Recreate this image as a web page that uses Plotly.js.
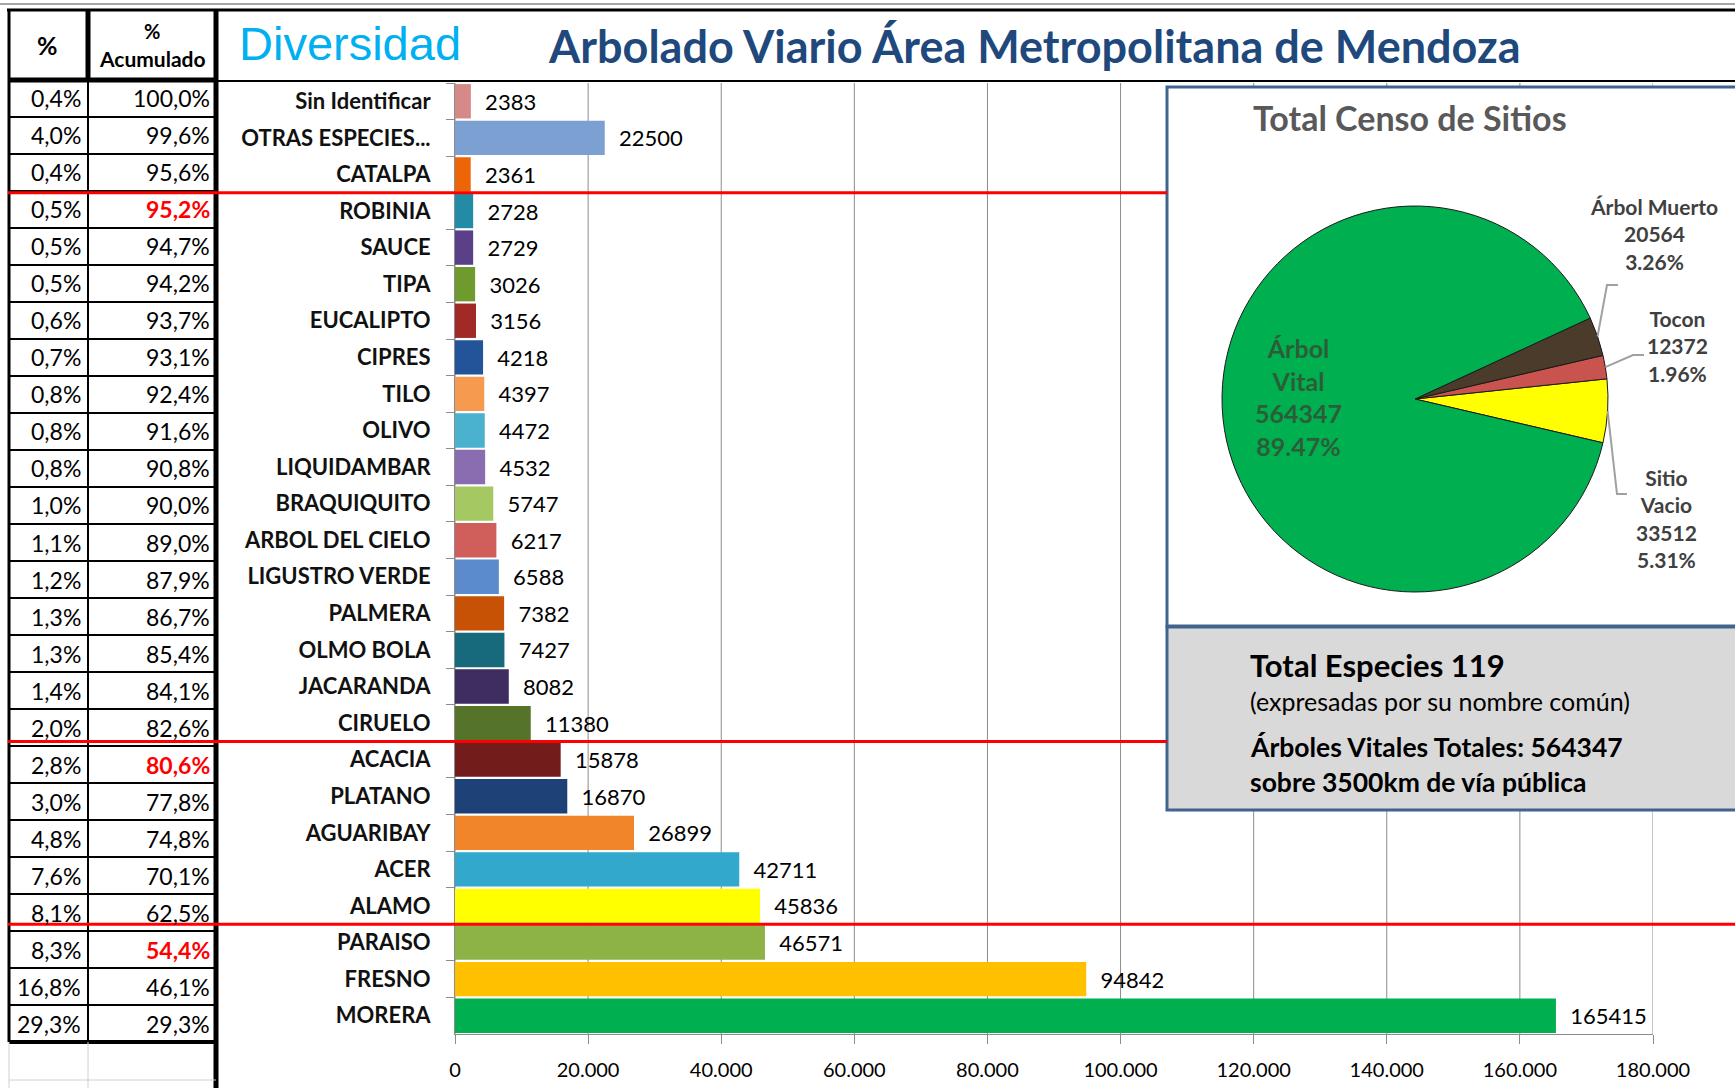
<!DOCTYPE html>
<html>
<head>
<meta charset="utf-8">
<script src="https://cdn.plot.ly/plotly-3.0.1.min.js"></script>
<style>
html,body{margin:0;padding:0;background:#fff;}
#chart{width:1735px;height:1088px;}
</style>
</head>
<body>
<div id="chart"></div>
<script>
// ---------------- DATA ----------------
const species = ['Sin Identificar','OTRAS ESPECIES...','CATALPA','ROBINIA','SAUCE','TIPA','EUCALIPTO','CIPRES','TILO','OLIVO','LIQUIDAMBAR','BRAQUIQUITO','ARBOL DEL CIELO','LIGUSTRO VERDE','PALMERA','OLMO BOLA','JACARANDA','CIRUELO','ACACIA','PLATANO','AGUARIBAY','ACER','ALAMO','PARAISO','FRESNO','MORERA'];
const counts = [2383,22500,2361,2728,2729,3026,3156,4218,4397,4472,4532,5747,6217,6588,7382,7427,8082,11380,15878,16870,26899,42711,45836,46571,94842,165415];
const pctText = ['0,4%','4,0%','0,4%','0,5%','0,5%','0,5%','0,6%','0,7%','0,8%','0,8%','0,8%','1,0%','1,1%','1,2%','1,3%','1,3%','1,4%','2,0%','2,8%','3,0%','4,8%','7,6%','8,1%','8,3%','16,8%','29,3%'];
const cumText = ['100,0%','99,6%','95,6%','95,2%','94,7%','94,2%','93,7%','93,1%','92,4%','91,6%','90,8%','90,0%','89,0%','87,9%','86,7%','85,4%','84,1%','82,6%','80,6%','77,8%','74,8%','70,1%','62,5%','54,4%','46,1%','29,3%'];
const cutRows = ['ROBINIA','ACACIA','PARAISO'];
const barColors = ['#D58A88','#7DA0D2','#EE6508','#228BA6','#5A4088','#6F9A2E','#A12A27','#23549A','#F59A4F','#4AB2CF','#8A6CB0','#A5C862','#D05E5A','#5B8BCB','#C75206','#176A7C','#3E2D60','#56732A','#721C1C','#1E4278','#F0852A','#31A8CC','#FFFF00','#8DB246','#FFC000','#00B050'];
const xTickVals = [0,20000,40000,60000,80000,100000,120000,140000,160000,180000];

const pieLabels = ['Sitio Vacio','Tocon','Árbol Muerto','Árbol Vital'];
const pieValues = [33512,12372,20564,564347];
const pieColors = ['#FFFF00','#C9534F','#4A3B2A','#00B050'];

const titleLeft = 'Diversidad';
const titleMain = 'Arbolado Viario Área Metropolitana de Mendoza';
const pieTitle = 'Total Censo de Sitios';
const headPct = '%';
const headCum = ['%','Acumulado'];
const infoLines = ['Total Especies 119','(expresadas por su nombre común)','Árboles Vitales Totales: 564347','sobre 3500km de vía pública'];

// ---------------- GEOMETRY ----------------
const W = 1735, H = 1088;
const px = x => x / W;
const py = y => 1 - y / H;
const PLOT_L = 455, PLOT_R = 1653, PLOT_T = 83, PLOT_B = 1034;
const T_L = 9, T_MID = 88, T_R = 216, T_TOP = 10, T_HEAD = 80, T_BOT = 1042;
const PIE_CX = 1415, PIE_CY = 399, PIE_R = 193;
const PIE_ROT = 84;
const FONT = 'Lato, sans-serif';

const n = species.length;

const shapes = [];
const annotations = [];

// vertical gridlines (drawn as lower shapes so the white box can hide them)
xTickVals.forEach(v => shapes.push({type:'line', xref:'x', yref:'paper', x0:v, x1:v, y0:py(PLOT_B), y1:py(PLOT_T), line:{color:'#8C8C8C', width:1}, layer:'below'}));

// pie box + info box
shapes.push({type:'rect', xref:'paper', yref:'paper', x0:px(1167), x1:px(1750), y0:py(626), y1:py(87), fillcolor:'#FFFFFF', line:{color:'#41648F', width:3}, layer:'below'});
shapes.push({type:'rect', xref:'paper', yref:'paper', x0:px(1167), x1:px(1750), y0:py(810), y1:py(627), fillcolor:'#D9D9D9', line:{color:'#41648F', width:3}, layer:'below'});

function hline(y, x0, x1, color, width, layer){ shapes.push({type:'line', xref:'paper', yref:'paper', x0:px(x0), x1:px(x1), y0:py(y), y1:py(y), line:{color, width}, layer: layer || 'above'}); }
function vline(x, y0, y1, color, width, layer){ shapes.push({type:'line', xref:'paper', yref:'paper', x0:px(x), x1:px(x), y0:py(y0), y1:py(y1), line:{color, width}, layer: layer || 'above'}); }

// sheet frame lines
hline(4, 0, W, '#A6A6A6', 2);
hline(T_TOP, 7, W, '#000', 3);
hline(81, T_R, W, '#000', 2);
// table frame
vline(T_L, T_TOP, T_BOT, '#000', 3);
vline(T_MID, T_TOP, T_HEAD, '#000', 5);
vline(T_MID, T_HEAD, T_BOT, '#000', 2);
vline(T_R, T_TOP, H, '#000', 5);
hline(T_HEAD, T_L, T_R, '#000', 5);
hline(T_BOT, T_L, T_R, '#000', 4);
vline(T_MID, T_BOT, H, '#D0D0D0', 1);
vline(T_L, T_BOT, H, '#D0D0D0', 1);
hline(1080, T_L, T_R, '#D0D0D0', 1);

// red cut lines
const redEnds = [1167, 1167, W];
cutRows.forEach((name, k) => {
  const idx = species.indexOf(name);
  shapes.push({type:'line', xref:'paper', yref:'y', x0:px(8), x1:px(redEnds[k]), y0:idx-0.5, y1:idx-0.5, line:{color:'#FF0000', width:3}, layer:'above'});
});

// table text
species.forEach((name, i) => {
  const isCut = cutRows.includes(name);
  annotations.push({xref:'paper', yref:'y2', x:px(83), y:name, xanchor:'right', yanchor:'middle', text:pctText[i], showarrow:false, font:{family:FONT, size:23, color:'#000'}});
  annotations.push({xref:'paper', yref:'y2', x:px(212), y:name, xanchor:'right', yanchor:'middle', text:cumText[i], showarrow:false, font:{family:FONT, size:23, color:isCut ? '#FF0000' : '#000', weight: isCut ? 700 : 400}});
});

// table header
annotations.push({xref:'paper', yref:'paper', x:px(47), y:py(45), xanchor:'center', yanchor:'middle', text:headPct, showarrow:false, font:{family:FONT, size:25, color:'#000', weight:700}});
annotations.push({xref:'paper', yref:'paper', x:px(152), y:py(31), xanchor:'center', yanchor:'middle', text:headCum[0], showarrow:false, font:{family:FONT, size:20, color:'#000', weight:700}});
annotations.push({xref:'paper', yref:'paper', x:px(152), y:py(59), xanchor:'center', yanchor:'middle', text:headCum[1], showarrow:false, font:{family:FONT, size:21, color:'#000', weight:700}});

// titles
annotations.push({xref:'paper', yref:'paper', x:px(237), y:py(43), xanchor:'left', yanchor:'middle', text:titleLeft, showarrow:false, font:{family:'Liberation Sans, Arial, sans-serif', size:47, color:'#00B0F0'}});
annotations.push({xref:'paper', yref:'paper', x:px(546), y:py(46), xanchor:'left', yanchor:'middle', text:titleMain, showarrow:false, font:{family:FONT, size:45, color:'#1F497D', weight:700}});
annotations.push({xref:'paper', yref:'paper', x:px(1410), y:py(118), xanchor:'center', yanchor:'middle', text:pieTitle, showarrow:false, font:{family:FONT, size:34, color:'#595959', weight:700}});

// info box
const infoStyle = [
  {y:665, size:31, weight:700},
  {y:701, size:25, weight:400},
  {y:747, size:26.5, weight:700},
  {y:782, size:26.5, weight:700}
];
infoLines.forEach((t, k) => annotations.push({xref:'paper', yref:'paper', x:px(1248), y:py(infoStyle[k].y), xanchor:'left', yanchor:'middle', text:t, showarrow:false, font:{family:FONT, size:infoStyle[k].size, color:'#000', weight:infoStyle[k].weight}}));

// pie labels & leader lines
const pieTotal = pieValues.reduce((a,b)=>a+b, 0);
const spans = pieValues.map(v => v / pieTotal * 360);
const midAngles = [];
let acc = PIE_ROT;
spans.forEach((s, i) => {
  if (i === 0) midAngles.push(PIE_ROT + s/2);
  else { midAngles.push(acc - s/2); acc -= s; }
});
const pieLabelPos = {
  'Árbol Muerto': {x:1654, y:234, wrap:false, color:'#404040', size:21, knee:[1607,285], end:[1618,285]},
  'Tocon':        {x:1677, y:346, wrap:false, color:'#404040', size:21, knee:[1633,355], end:[1644,355]},
  'Sitio Vacio':  {x:1666, y:518, wrap:true,  color:'#404040', size:21, knee:[1617,494], end:[1627,494]},
  'Árbol Vital':  {x:1298, y:397, wrap:true,  color:'#2B5E38', size:25}
};
pieLabels.forEach((lab, i) => {
  const cfg = pieLabelPos[lab];
  const name = cfg.wrap ? lab.replace(' ', '<br>') : lab;
  const pct = (pieValues[i] / pieTotal * 100).toFixed(2) + '%';
  annotations.push({xref:'paper', yref:'paper', x:px(cfg.x), y:py(cfg.y), xanchor:'center', yanchor:'middle', align:'center', text: name + '<br>' + pieValues[i] + '<br>' + pct, showarrow:false, font:{family:FONT, size:cfg.size, color:cfg.color, weight:700}});
  if (cfg.knee) {
    const a = midAngles[i] * Math.PI / 180;
    const ex = PIE_CX + PIE_R * Math.sin(a), ey = PIE_CY - PIE_R * Math.cos(a);
    shapes.push({type:'path', xref:'paper', yref:'paper', layer:'above',
      path:'M ' + px(ex) + ' ' + py(ey) + ' L ' + px(cfg.knee[0]) + ' ' + py(cfg.knee[1]) + ' L ' + px(cfg.end[0]) + ' ' + py(cfg.end[1]),
      line:{color:'#A0A0A0', width:2}});
  }
});

// ---------------- TRACES ----------------
const barTrace = {
  type:'bar', orientation:'h', x:counts, y:species, xaxis:'x', yaxis:'y',
  marker:{color:barColors, line:{width:0}},
  text: counts.map(v => '\u00a0\u00a0' + v), textposition:'outside', cliponaxis:false, constraintext:'none',
  textfont:{family:FONT, size:22, color:'#000'},
  hoverinfo:'skip', showlegend:false
};
const tableAnchor = {
  type:'scatter', mode:'markers', x:species.map(() => 0.5), y:species, xaxis:'x2', yaxis:'y2',
  marker:{opacity:0}, hoverinfo:'skip', showlegend:false
};
const pieTrace = {
  type:'pie', values:pieValues, labels:pieLabels, sort:false, direction:'counterclockwise', rotation:PIE_ROT,
  marker:{colors:pieColors, line:{color:'#1A1A1A', width:1}}, textinfo:'none', hoverinfo:'skip', showlegend:false,
  domain:{x:[px(PIE_CX-PIE_R), px(PIE_CX+PIE_R)], y:[py(PIE_CY+PIE_R), py(PIE_CY-PIE_R)]}
};

const layout = {
  width:W, height:H, autosize:false,
  margin:{l:0, r:0, t:0, b:0, pad:0},
  paper_bgcolor:'#FFFFFF', plot_bgcolor:'rgba(0,0,0,0)',
  separators:',.',
  bargap:0.06,
  showlegend:false,
  xaxis:{domain:[px(PLOT_L), px(PLOT_R)], range:[0,180000], anchor:'y', showgrid:false, zeroline:false,
    showline:true, linecolor:'#8C8C8C', linewidth:1, ticks:'outside', ticklen:9, tickcolor:'#8C8C8C', tickwidth:1,
    tickvals:xTickVals, tickformat:',.0f', tickfont:{family:FONT, size:20, color:'#000'}, ticklabelstandoff:9, fixedrange:true},
  yaxis:{domain:[py(PLOT_B), py(PLOT_T)], anchor:'x', type:'category', categoryorder:'array', categoryarray:species,
    range:[n-0.5, -0.5], showgrid:false, zeroline:false, showline:true, linecolor:'#8C8C8C', linewidth:1,
    ticks:'outside', tickson:'boundaries', ticklen:8, tickcolor:'#8C8C8C', tickwidth:1,
    tickfont:{family:FONT, size:22, color:'#111', weight:700}, ticklabelstandoff:19, fixedrange:true},
  xaxis2:{domain:[px(T_L), px(T_R)], range:[0,1], anchor:'y2', visible:false, fixedrange:true},
  yaxis2:{domain:[py(T_BOT), py(T_HEAD)], anchor:'x2', type:'category', categoryorder:'array', categoryarray:species,
    range:[n-0.5, -0.5], showgrid:true, gridcolor:'#000', gridwidth:2, tickson:'boundaries', showticklabels:false,
    ticks:'', showline:false, zeroline:false, fixedrange:true},
  shapes:shapes,
  annotations:annotations
};

Plotly.newPlot('chart', [barTrace, tableAnchor, pieTrace], layout, {staticPlot:true, displayModeBar:false});
</script>
</body>
</html>
